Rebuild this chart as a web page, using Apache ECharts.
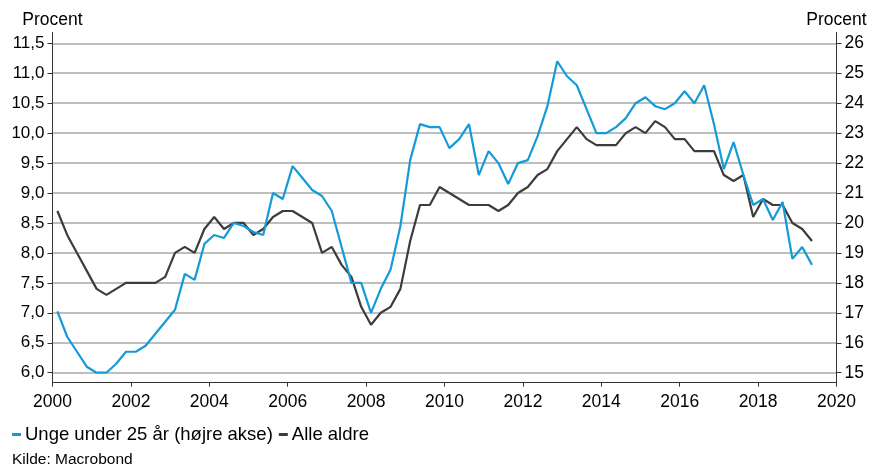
<!DOCTYPE html>
<html>
<head>
<meta charset="utf-8">
<script src="https://cdn.jsdelivr.net/npm/echarts@6/dist/echarts.min.js"></script>
<style>
  html, body { margin: 0; padding: 0; background: #fff; }
  #chart { width: 871px; height: 466px; }
</style>
</head>
<body>
<div id="chart"></div>
<script>
// kvartalsdata 2000K1 - 2019K2
var startYear = 2000;

// Alle aldre, venstre akse (pct.)
var alleAldre = [
  8.7, 8.3, 8.0, 7.7, 7.4, 7.3, 7.4, 7.5, 7.5, 7.5,
  7.5, 7.6, 8.0, 8.1, 8.0, 8.4, 8.6, 8.4, 8.5, 8.5,
  8.3, 8.4, 8.6, 8.7, 8.7, 8.6, 8.5, 8.0, 8.1, 7.8,
  7.6, 7.1, 6.8, 7.0, 7.1, 7.4, 8.2, 8.8, 8.8, 9.1,
  9.0, 8.9, 8.8, 8.8, 8.8, 8.7, 8.8, 9.0, 9.1, 9.3,
  9.4, 9.7, 9.9, 10.1, 9.9, 9.8, 9.8, 9.8, 10.0, 10.1,
  10.0, 10.2, 10.1, 9.9, 9.9, 9.7, 9.7, 9.7, 9.3, 9.2,
  9.3, 8.6, 8.9, 8.8, 8.8, 8.5, 8.4, 8.2
];

// Unge under 25 år, højre akse (pct.)
var ungeUnder25 = [
  17.05, 16.2, 15.7, 15.2, 15.0, 15.0, 15.3, 15.7, 15.7, 15.9,
  16.3, 16.7, 17.1, 18.3, 18.1, 19.3, 19.6, 19.5, 20.0, 19.9,
  19.7, 19.6, 21.0, 20.8, 21.9, 21.5, 21.1, 20.9, 20.4, 19.2,
  18.0, 18.0, 17.0, 17.8, 18.45, 19.9, 22.1, 23.3, 23.2, 23.2,
  22.5, 22.8, 23.3, 21.6, 22.4, 22.0, 21.3, 22.0, 22.1, 22.9,
  23.9, 25.4, 24.9, 24.6, 23.8, 23.0, 23.0, 23.2, 23.5, 24.0,
  24.2, 23.9, 23.8, 24.0, 24.4, 24.0, 24.6, 23.3, 21.8, 22.7,
  21.6, 20.6, 20.8, 20.1, 20.7, 18.8, 19.2, 18.6
];

var legendNames = ['Unge under 25 år (højre akse)', 'Alle aldre'];
var leftTicks = { min: 6, max: 11.5, step: 0.5 };
var rightTicks = { min: 15, max: 26, step: 1 };
var yearTicks = { min: 2000, max: 2020, step: 2 };

// midt i kvartalet
function quarterTime (i) {
  return startYear + 0.125 + 0.25 * i;
}
function toPairs (arr) {
  var out = [];
  for (var i = 0; i < arr.length; i++) out.push([quarterTime(i), arr[i]]);
  return out;
}

var font = 'Liberation Sans, Arial, sans-serif';
var blue = '#149bd7';
var dark = '#3c3c3c';

var chart = echarts.init(document.getElementById('chart'));

var option = {
  backgroundColor: '#fff',
  animation: false,
  textStyle: { fontFamily: font },
  grid: {
    left: 52.5,
    right: 34.5,
    top: 43.3,
    bottom: 93.3
  },
  legend: {
    left: 7,
    top: 420,
    itemWidth: 9,
    itemHeight: 3,
    itemGap: 6,
    icon: 'rect',
    data: legendNames,
    textStyle: { fontSize: 18.5, color: '#000', padding: [0, 0, 0, -1] }
  },
  xAxis: {
    type: 'value',
    min: yearTicks.min,
    max: yearTicks.max,
    interval: yearTicks.step,
    offset: 10,
    axisLine: { show: true, lineStyle: { color: '#333', width: 1 } },
    axisTick: { show: true, length: 4, lineStyle: { color: '#333' } },
    axisLabel: {
      color: '#000',
      fontSize: 17.5,
      margin: 10,
      formatter: function (v) { return String(v) }
    },
    splitLine: { show: false }
  },
  yAxis: [
    {
      type: 'value',
      position: 'left',
      min: leftTicks.min,
      max: leftTicks.max,
      interval: leftTicks.step,
      name: 'Procent',
      nameLocation: 'end',
      nameGap: 14,
      nameTextStyle: { color: '#000', fontSize: 17.5, align: 'center' },
      axisLine: { show: false },
      axisTick: { show: true, length: 5, lineStyle: { color: '#333' } },
      axisLabel: {
        color: '#000',
        fontSize: 17,
        margin: 8,
        formatter: function (v) { return v.toFixed(1).replace('.', ',') }
      },
      splitLine: { show: true, lineStyle: { color: '#a8a8a8', width: 1.6 } }
    },
    {
      type: 'value',
      position: 'right',
      min: rightTicks.min,
      max: rightTicks.max,
      interval: rightTicks.step,
      name: 'Procent',
      nameLocation: 'end',
      nameGap: 14,
      nameTextStyle: { color: '#000', fontSize: 17.5, align: 'center' },
      axisLine: { show: false },
      axisTick: { show: true, length: 5, lineStyle: { color: '#333' } },
      axisLabel: {
        color: '#000',
        fontSize: 17.5,
        margin: 8,
        formatter: function (v) { return String(v) }
      },
      splitLine: { show: false }
    }
  ],
  graphic: [
    // aksestreger der rækker lidt ud over plotområdet
    { type: 'line', shape: { x1: 52.5, y1: 32, x2: 52.5, y2: 383.5 }, style: { stroke: '#333', lineWidth: 1 }, z: 10 },
    { type: 'line', shape: { x1: 836.5, y1: 32, x2: 836.5, y2: 383.5 }, style: { stroke: '#333', lineWidth: 1 }, z: 10 },
    {
      type: 'text', left: 12, top: 452,
      style: { text: 'Kilde: Macrobond', fontSize: 15.5, fontFamily: font, fill: '#000' }
    }
  ],
  series: [
    {
      name: 'Alle aldre',
      type: 'line',
      yAxisIndex: 0,
      showSymbol: false,
      color: dark,
      lineStyle: { width: 2.2, color: dark },
      data: toPairs(alleAldre)
    },
    {
      name: 'Unge under 25 år (højre akse)',
      type: 'line',
      yAxisIndex: 1,
      showSymbol: false,
      color: blue,
      lineStyle: { width: 2.2, color: blue },
      data: toPairs(ungeUnder25)
    }
  ]
};

chart.setOption(option);
</script>
</body>
</html>
